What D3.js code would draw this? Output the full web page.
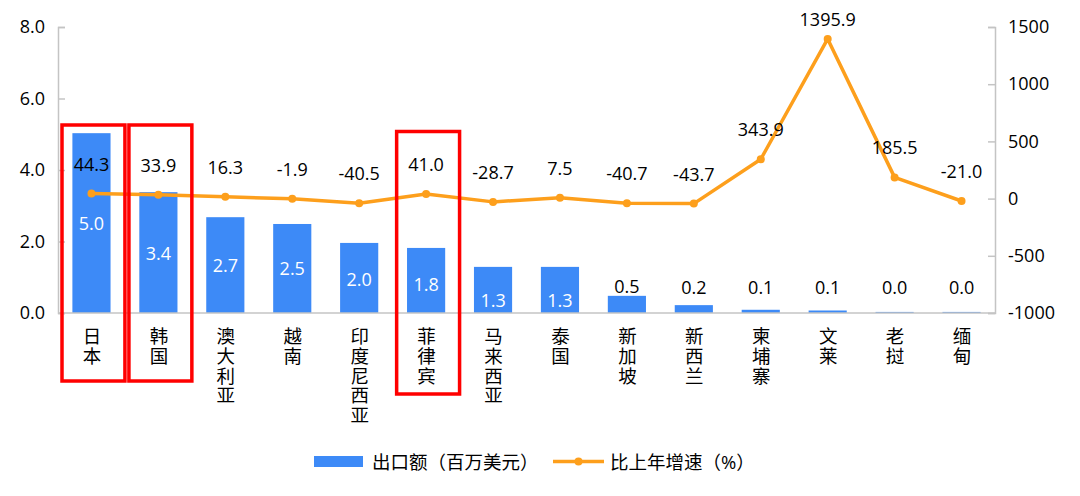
<!DOCTYPE html>
<html>
<head>
<meta charset="utf-8">
<script src="https://cdn.jsdelivr.net/npm/d3@7"></script>
<style>
  html, body { margin: 0; padding: 0; background: #fff; }
  svg text { font-family: "Open Sans", "Noto Sans CJK SC", sans-serif; }
</style>
</head>
<body>
<div id="chart"></div>
<script>
  'use strict';

  var categories = ['日本', '韩国', '澳大利亚', '越南', '印度尼西亚', '菲律宾', '马来西亚',
    '泰国', '新加坡', '新西兰', '柬埔寨', '文莱', '老挝', '缅甸'];
  var exportValues = [5.03, 3.38, 2.68, 2.49, 1.96, 1.82, 1.29, 1.29, 0.48, 0.22, 0.09, 0.07, 0.03, 0.03];
  var growthValues = [44.3, 33.9, 16.3, -1.9, -40.5, 41.0, -28.7, 7.5, -40.7, -43.7, 343.9, 1395.9, 185.5, -21.0];
  var leftTicks = [0, 2, 4, 6, 8];
  var rightTicks = [-1000, -500, 0, 500, 1000, 1500];
  var highlighted = ['日本', '韩国', '菲律宾'];
  var seriesNames = ['出口额（百万美元）', '比上年增速（%）'];

  var width = 1080,
    height = 496,
    plot = {left: 58, right: 995, top: 27, bottom: 313},
    barColor = '#3d8af7',
    lineColor = '#fd9f1c',
    axisColor = '#c4c4c4',
    fontSize = 18;

  // excel style numbers: plain hyphen for minus
  function fmt(spec) {
    var f = d3.format(spec);
    return function (v) { return f(v).replace('\u2212', '-'); };
  }
  var fmt1 = fmt('.1f');

  var data = categories.map(function (c, i) {
    return {name: c, value: exportValues[i], growth: growthValues[i]};
  });

  var x = d3.scaleBand()
    .domain(categories)
    .range([plot.left, plot.right])
    .paddingInner(0)
    .paddingOuter(0);
  var barWidth = x.bandwidth() * 0.57;
  var cx = function (d) { return x(d.name) + x.bandwidth() / 2; };

  var yLeft = d3.scaleLinear().domain([0, 8]).range([plot.bottom, plot.top]);
  var yRight = d3.scaleLinear().domain([-1000, 1500]).range([plot.bottom, plot.top]);

  var svg = d3.select('#chart')
    .append('svg')
    .attr('width', width)
    .attr('height', height);

  // axes
  var leftAxis = svg.append('g')
    .attr('transform', 'translate(' + plot.left + ',0)')
    .call(d3.axisLeft(yLeft).tickValues(leftTicks).tickSize(-7).tickPadding(13)
      .tickFormat(fmt1));
  var rightAxis = svg.append('g')
    .attr('transform', 'translate(' + plot.right + ',0)')
    .call(d3.axisRight(yRight).tickValues(rightTicks).tickSize(-7).tickPadding(13)
      .tickFormat(fmt('d')));
  [leftAxis, rightAxis].forEach(function (a) {
    a.select('.domain').attr('stroke', axisColor).attr('stroke-width', 1.5);
    a.selectAll('.tick line').attr('stroke', axisColor).attr('stroke-width', 1.5);
    a.selectAll('.tick text')
      .attr('fill', '#000')
      .style('font-size', fontSize + 'px');
  });
  rightAxis.selectAll('.tick text').attr('x', 13);

  // bars
  svg.append('g')
    .selectAll('rect')
    .data(data)
    .enter()
    .append('rect')
    .attr('x', function (d) { return x(d.name) + (x.bandwidth() - barWidth) / 2; })
    .attr('y', function (d) { return yLeft(d.value); })
    .attr('width', barWidth)
    .attr('height', function (d) { return yLeft(0) - yLeft(d.value); })
    .attr('fill', barColor);

  // baseline
  svg.append('line')
    .attr('x1', plot.left).attr('x2', plot.right)
    .attr('y1', yLeft(0)).attr('y2', yLeft(0))
    .attr('stroke', axisColor)
    .attr('stroke-width', 1.5);

  // bar labels
  svg.append('g')
    .selectAll('text')
    .data(data)
    .enter()
    .append('text')
    .attr('x', cx)
    .attr('y', function (d) {
      var top = yLeft(d.value), base = yLeft(0);
      if (d.value >= 1) {
        return Math.min(Math.max((top + base) / 2, top + 36), base - 13);
      }
      return Math.min(top - 10, base - 26);
    })
    .attr('text-anchor', 'middle')
    .attr('dominant-baseline', 'central')
    .attr('fill', function (d) { return d.value >= 1 ? '#fff' : '#000'; })
    .style('font-size', fontSize + 'px')
    .text(function (d) { return fmt1(d.value); });

  // growth line
  var line = d3.line()
    .x(cx)
    .y(function (d) { return yRight(d.growth); });

  svg.append('path')
    .datum(data)
    .attr('d', line)
    .attr('fill', 'none')
    .attr('stroke', lineColor)
    .attr('stroke-width', 3.5)
    .attr('stroke-linejoin', 'round');

  svg.append('g')
    .selectAll('circle')
    .data(data)
    .enter()
    .append('circle')
    .attr('cx', cx)
    .attr('cy', function (d) { return yRight(d.growth); })
    .attr('r', 4)
    .attr('fill', lineColor);

  svg.append('g')
    .selectAll('text')
    .data(data)
    .enter()
    .append('text')
    .attr('x', cx)
    .attr('y', function (d) { return Math.max(yRight(d.growth) - 30, 19); })
    .attr('text-anchor', 'middle')
    .attr('dominant-baseline', 'central')
    .attr('fill', '#000')
    .style('font-size', fontSize + 'px')
    .text(function (d) { return fmt1(d.growth); });

  // vertical category labels
  svg.append('g')
    .selectAll('text')
    .data(data)
    .enter()
    .append('text')
    .attr('x', cx)
    .attr('y', plot.bottom + 14)
    .attr('fill', '#000')
    .style('font-size', '18.5px')
    .style('writing-mode', 'vertical-rl')
    .style('text-orientation', 'upright')
    .style('letter-spacing', '1.2px')
    .text(function (d) { return d.name; });

  // red highlight boxes
  svg.append('g')
    .selectAll('rect')
    .data(highlighted)
    .enter()
    .append('rect')
    .attr('x', function (d) { return x(d) + 4; })
    .attr('y', function (d, i) { return i < 2 ? 125 : 131.5; })
    .attr('width', x.bandwidth() - 4)
    .attr('height', function (d, i) { return i < 2 ? 256 : 262.5; })
    .attr('fill', 'none')
    .attr('stroke', '#ff0000')
    .attr('stroke-width', 3.5);

  // legend
  var legend = svg.append('g').attr('transform', 'translate(0,461.5)');
  legend.append('rect')
    .attr('x', 314).attr('y', -5.5)
    .attr('width', 49).attr('height', 11)
    .attr('fill', barColor);
  legend.append('text')
    .attr('x', 372).attr('y', 0)
    .attr('dominant-baseline', 'central')
    .style('font-size', '18.5px')
    .text(seriesNames[0]);
  legend.append('line')
    .attr('x1', 553).attr('x2', 604)
    .attr('y1', 0).attr('y2', 0)
    .attr('stroke', lineColor)
    .attr('stroke-width', 3.5);
  legend.append('circle')
    .attr('cx', 578.5).attr('cy', 0).attr('r', 4)
    .attr('fill', lineColor);
  legend.append('text')
    .attr('x', 610).attr('y', 0)
    .attr('dominant-baseline', 'central')
    .style('font-size', '18.5px')
    .text(seriesNames[1]);
</script>
</body>
</html>
